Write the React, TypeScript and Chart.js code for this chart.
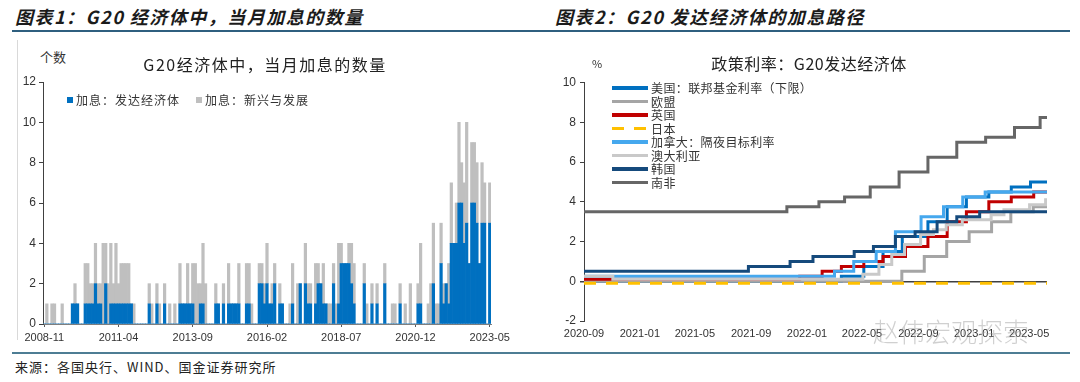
import React, { useEffect, useRef } from 'react';
import { Chart, registerables } from 'chart.js';

Chart.register(...registerables);

const CJK = '"Noto Sans CJK SC", "Noto Sans", sans-serif';
const NUM = '"Liberation Sans", Arial, sans-serif';

// ---------- Chart 1: monthly count of G20 rate hikes ----------
const BAR_START_YEAR = 2008;
const BAR_START_MONTH = 11;
const BAR_COUNT = 175;
const monthCategories: string[] = Array.from({ length: BAR_COUNT }, (_, i) => {
  const m = BAR_START_MONTH - 1 + i;
  const y = BAR_START_YEAR + Math.floor(m / 12);
  return `${y}-${String((m % 12) + 1).padStart(2, '0')}`;
});
const barTickLabels = ['2008-11', '2011-04', '2013-09', '2016-02', '2018-07', '2020-12', '2023-05'];

// 加息：发达经济体
const developed = [
  0, 0, 0, 0, 0, 0, 0, 0, 0, 0,
  0, 1, 1, 1, 0, 0, 1, 1, 1, 1,
  2, 1, 1, 0, 2, 0, 1, 1, 1, 1,
  1, 1, 1, 1, 1, 0, 0, 0, 0, 0,
  0, 1, 0, 0, 1, 0, 0, 1, 0, 0,
  0, 0, 0, 1, 1, 1, 1, 1, 1, 0,
  0, 1, 1, 0, 0, 0, 0, 1, 1, 0,
  1, 0, 1, 1, 1, 1, 1, 0, 0, 1,
  1, 0, 0, 0, 2, 2, 1, 2, 1, 1,
  2, 0, 1, 1, 0, 0, 0, 1, 0, 0,
  2, 0, 2, 1, 1, 0, 1, 2, 2, 1,
  1, 0, 0, 2, 0, 1, 3, 3, 3, 3,
  2, 1, 0, 0, 0, 2, 0, 0, 1, 0,
  1, 0, 0, 2, 0, 0, 0, 0, 0, 1,
  0, 0, 0, 0, 0, 0, 1, 1, 0, 0,
  0, 0, 2, 0, 0, 3, 1, 2, 1, 4,
  4, 4, 6, 6, 4, 5, 3, 6, 6, 5,
  3, 5, 5, 0, 5,
];

// 加息：新兴与发展
const emerging = [
  0, 1, 0, 1, 1, 0, 0, 1, 0, 0,
  0, 0, 1, 0, 0, 0, 2, 2, 1, 1,
  2, 1, 1, 4, 2, 2, 3, 1, 3, 1,
  2, 2, 2, 2, 0, 1, 0, 0, 0, 0,
  0, 1, 1, 0, 1, 1, 0, 1, 0, 1,
  0, 1, 0, 2, 0, 0, 2, 0, 2, 3,
  2, 1, 3, 2, 0, 0, 0, 1, 0, 0,
  1, 0, 2, 0, 0, 0, 2, 0, 0, 2,
  2, 1, 0, 0, 1, 1, 1, 2, 0, 1,
  1, 0, 1, 0, 0, 0, 1, 2, 0, 2,
  0, 0, 2, 1, 1, 0, 2, 1, 0, 2,
  0, 1, 1, 1, 1, 3, 1, 0, 0, 1,
  2, 2, 0, 0, 0, 1, 1, 0, 1, 0,
  1, 0, 0, 1, 0, 0, 1, 1, 0, 1,
  0, 1, 0, 2, 0, 0, 1, 3, 0, 0,
  1, 2, 3, 1, 1, 2, 1, 0, 2, 3,
  0, 2, 4, 2, 3, 5, 0, 3, 3, 3,
  0, 3, 2, 0, 2,
];

// ---------- Chart 2: policy rates of G20 developed economies ----------
const lineStart = '2020-09-01';
const lineEnd = '2023-06-09';
const lineTickDates = ['2020-09-01', '2021-01-01', '2021-05-01', '2021-09-01', '2022-01-01', '2022-05-01', '2022-09-01', '2023-01-01', '2023-05-01'];
const lineTickLabels = ['2020-09', '2021-01', '2021-05', '2021-09', '2022-01', '2022-05', '2022-09', '2023-01', '2023-05'];

const usDates = ['2020-09-01', '2022-03-17', '2022-05-05', '2022-06-16', '2022-07-28', '2022-09-22', '2022-11-03', '2022-12-15', '2023-02-02', '2023-03-23', '2023-05-04'];
const usRates = [0, 0.25, 0.75, 1.5, 2.25, 3.0, 3.75, 4.25, 4.5, 4.75, 5.0];
const euDates = ['2020-09-01', '2022-07-27', '2022-09-14', '2022-11-02', '2022-12-21', '2023-02-08', '2023-03-22', '2023-05-10'];
const euRates = [0, 0.5, 1.25, 2.0, 2.5, 3.0, 3.5, 3.75];
const ukDates = ['2020-09-01', '2021-12-16', '2022-02-03', '2022-03-17', '2022-05-05', '2022-06-16', '2022-08-04', '2022-09-22', '2022-11-03', '2022-12-15', '2023-02-02', '2023-03-23', '2023-05-11'];
const ukRates = [0.1, 0.25, 0.5, 0.75, 1.0, 1.25, 1.75, 2.25, 3.0, 3.5, 4.0, 4.25, 4.5];
const jpDates = ['2020-09-01'];
const jpRates = [-0.1];
const caDates = ['2020-09-01', '2022-03-02', '2022-04-13', '2022-06-01', '2022-07-13', '2022-09-07', '2022-10-26', '2022-12-07', '2023-01-25'];
const caRates = [0.25, 0.5, 1.0, 1.5, 2.5, 3.25, 3.75, 4.25, 4.5];
const auDates = ['2020-09-01', '2020-11-03', '2022-05-03', '2022-06-07', '2022-07-05', '2022-08-02', '2022-09-06', '2022-10-04', '2022-11-01', '2022-12-06', '2023-02-07', '2023-03-07', '2023-05-02', '2023-06-06'];
const auRates = [0.25, 0.1, 0.35, 0.85, 1.35, 1.85, 2.35, 2.6, 2.85, 3.1, 3.35, 3.6, 3.85, 4.1];
const krDates = ['2020-09-01', '2021-08-26', '2021-11-25', '2022-01-14', '2022-04-14', '2022-05-26', '2022-07-13', '2022-08-25', '2022-10-12', '2022-11-24', '2023-01-13'];
const krRates = [0.5, 0.75, 1.0, 1.25, 1.5, 1.75, 2.25, 2.5, 3.0, 3.25, 3.5];
const zaDates = ['2020-09-01', '2021-11-18', '2022-01-27', '2022-03-24', '2022-05-19', '2022-07-21', '2022-09-22', '2022-11-24', '2023-01-26', '2023-03-30', '2023-05-25'];
const zaRates = [3.5, 3.75, 4.0, 4.25, 4.75, 5.5, 6.25, 7.0, 7.25, 7.75, 8.25];

const seriesNames = ['美国：联邦基金利率（下限）', '欧盟', '英国', '日本', '加拿大：隔夜目标利率', '澳大利亚', '韩国', '南非'];
const seriesColors = ['#0070C0', '#A5A5A5', '#C00000', '#FFC000', '#45A8EE', '#C9C9C9', '#154A7C', '#666666'];
const seriesDates = [usDates, euDates, ukDates, jpDates, caDates, auDates, krDates, zaDates];
const seriesRates = [usRates, euRates, ukRates, jpRates, caRates, auRates, krRates, zaRates];

const dayOf = (s: string) => {
  const [y, m, d] = s.split('-').map(Number);
  const [y0, m0, d0] = lineStart.split('-').map(Number);
  return (Date.UTC(y, m - 1, d) - Date.UTC(y0, m0 - 1, d0)) / 86400000;
};

export default function App() {
  const barRef = useRef<HTMLCanvasElement>(null);
  const lineRef = useRef<HTMLCanvasElement>(null);

  useEffect(() => {
    document.body.style.margin = '0';
    const tickFont = { family: NUM, size: 11 };

    const bar = new Chart(barRef.current!, {
      type: 'bar',
      data: {
        labels: monthCategories,
        datasets: [
          { label: '加息：发达经济体', data: developed, backgroundColor: '#0070C0', borderWidth: 0, barPercentage: 1, categoryPercentage: 1 },
          { label: '加息：新兴与发展', data: emerging, backgroundColor: '#BFBFBF', borderWidth: 0, barPercentage: 1, categoryPercentage: 1 },
        ],
      },
      options: {
        responsive: false,
        animation: false,
        layout: { padding: { left: 0, top: 12, right: 49, bottom: 0 } },
        plugins: { legend: { display: false }, tooltip: { enabled: false } },
        scales: {
          x: {
            stacked: true,
            grid: {
              display: true,
              offset: false,
              drawOnChartArea: false,
              tickLength: 3,
              color: (ctx: any) => (barTickLabels.includes(monthCategories[ctx.index]) ? '#595959' : 'rgba(0,0,0,0)'),
            },
            border: { color: '#7f7f7f', width: 1 },
            ticks: {
              autoSkip: false,
              maxRotation: 0,
              minRotation: 0,
              padding: 4,
              color: '#333',
              font: tickFont,
              callback: (_v: any, idx: number) => (barTickLabels.includes(monthCategories[idx]) ? monthCategories[idx] : ''),
            },
            afterFit: (a: any) => { a.height = 26; },
          },
          y: {
            stacked: true,
            min: 0,
            max: 12,
            ticks: { stepSize: 2, padding: 3, color: '#333', font: { family: NUM, size: 12 } },
            grid: { drawOnChartArea: false, tickLength: 4, color: '#404040' },
            border: { color: '#404040', width: 1 },
            afterFit: (a: any) => { a.width = 43; },
          },
        },
      },
    } as any);

    const endDay = dayOf(lineEnd);
    const datasets = seriesNames.map((name, k) => {
      const pts = seriesDates[k].map((d, j) => ({ x: dayOf(d), y: seriesRates[k][j] }));
      pts.push({ x: endDay, y: seriesRates[k][seriesRates[k].length - 1] });
      return {
        label: name,
        data: pts,
        borderColor: seriesColors[k],
        backgroundColor: seriesColors[k],
        borderWidth: 3,
        borderDash: k === 3 ? [12, 10] : [],
        stepped: true,
        pointRadius: 0,
        fill: false,
        order: seriesNames.length - 1 - k,
      };
    });

    const line = new Chart(lineRef.current!, {
      type: 'line',
      data: { datasets },
      options: {
        responsive: false,
        animation: false,
        layout: { padding: { left: 0, top: 12.7, right: 33, bottom: 0 } },
        plugins: { legend: { display: false }, tooltip: { enabled: false } },
        scales: {
          x: {
            type: 'linear',
            min: 0,
            max: endDay,
            afterBuildTicks: (a: any) => { a.ticks = lineTickDates.map((d) => ({ value: dayOf(d) })); },
            ticks: {
              autoSkip: false,
              maxRotation: 0,
              padding: 6,
              color: '#333',
              font: tickFont,
              callback: (_v: any, i: number) => lineTickLabels[i],
            },
            grid: { display: false, drawTicks: false, tickLength: 0 },
            border: { display: false },
            afterFit: (a: any) => { a.height = 29; },
          },
          y: {
            min: -2,
            max: 10,
            ticks: { stepSize: 2, padding: 4, color: '#333', font: { family: NUM, size: 12 } },
            grid: {
              color: (ctx: any) => (ctx.tick && ctx.tick.value === 0 ? '#404040' : 'rgba(0,0,0,0)'),
              lineWidth: (ctx: any) => (ctx.tick && ctx.tick.value === 0 ? 1.5 : 1),
              tickColor: '#404040',
              tickLength: 4,
            },
            border: { color: '#404040', width: 1 },
            afterFit: (a: any) => { a.width = 44; },
          },
        },
      },
    } as any);

    return () => { bar.destroy(); line.destroy(); };
  }, []);

  const abs = (style: React.CSSProperties): React.CSSProperties => ({ position: 'absolute', whiteSpace: 'nowrap', ...style });

  return (
    <div style={{ position: 'relative', width: 1080, height: 382, background: '#fff', overflow: 'hidden', fontFamily: CJK, color: '#222' }}>
      <div style={abs({ left: 15, top: 4, fontSize: 18, fontWeight: 700, fontStyle: 'italic', letterSpacing: 1.5, lineHeight: '24px', color: '#1b1b1b' })}>图表1：G20 经济体中，当月加息的数量</div>
      <div style={abs({ left: 555, top: 4, fontSize: 18, fontWeight: 700, fontStyle: 'italic', letterSpacing: 1.5, lineHeight: '24px', color: '#1b1b1b' })}>图表2：G20 发达经济体的加息路径</div>
      <div style={abs({ left: 12, top: 30, width: 1058, height: 2, background: '#2f5f7f' })} />
      <div style={abs({ left: 17, top: 40, width: 1, height: 300, background: '#d9d9d9' })} />

      <canvas ref={barRef} width={540} height={280} style={{ position: 'absolute', left: 0, top: 70, width: 540, height: 280 }} />
      <canvas ref={lineRef} width={540} height={280} style={{ position: 'absolute', left: 540, top: 70, width: 540, height: 280 }} />

      {/* chart 1 texts */}
      <div style={abs({ left: 40, top: 48, fontSize: 13, lineHeight: '18px', color: '#333' })}>个数</div>
      <div style={abs({ left: 265, top: 54, transform: 'translateX(-50%)', fontSize: 16, letterSpacing: 1.5, lineHeight: '20px', color: '#222' })}>G20经济体中，当月加息的数量</div>
      <div style={abs({ left: 67, top: 92, fontSize: 12, letterSpacing: 1, lineHeight: '16px', color: '#333', display: 'flex', alignItems: 'center' })}>
        <span style={{ display: 'inline-block', width: 6, height: 6, background: '#0070C0', marginRight: 3 }} />
        <span>加息：发达经济体</span>
        <span style={{ display: 'inline-block', width: 6, height: 6, background: '#BFBFBF', marginLeft: 16, marginRight: 3 }} />
        <span>加息：新兴与发展</span>
      </div>

      {/* chart 2 texts */}
      <div style={abs({ left: 592, top: 55, fontSize: 11, lineHeight: '16px', color: '#333' })}>%</div>
      <div style={abs({ left: 809, top: 53, transform: 'translateX(-50%)', fontSize: 16, letterSpacing: 0.5, lineHeight: '20px', color: '#222' })}>政策利率：G20发达经济体</div>
      {seriesNames.map((name, k) => (
        <div key={name} style={abs({ left: 612, top: 81 + k * 13.5, height: 14, display: 'flex', alignItems: 'center', fontSize: 12, letterSpacing: 0.4, lineHeight: '14px', color: '#333' })}>
          <span
            style={{
              display: 'inline-block',
              width: 36,
              height: 3.5,
              marginRight: 3,
              background: k === 3 ? `repeating-linear-gradient(90deg, ${seriesColors[k]} 0 12px, transparent 12px 22px)` : seriesColors[k],
            }}
          />
          <span>{name}</span>
        </div>
      ))}

      <div style={abs({ left: 873, top: 314, fontSize: 26, fontWeight: 300, lineHeight: '34px', color: 'rgba(150,150,150,0.45)', letterSpacing: 0 })}>赵伟宏观探索</div>

      <div style={abs({ left: 12, top: 352, width: 1058, height: 2, background: '#4d7d94' })} />
      <div style={abs({ left: 15, top: 358, fontSize: 13, letterSpacing: 1, lineHeight: '18px', color: '#222' })}>来源：各国央行、WIND、国金证券研究所</div>
    </div>
  );
}
